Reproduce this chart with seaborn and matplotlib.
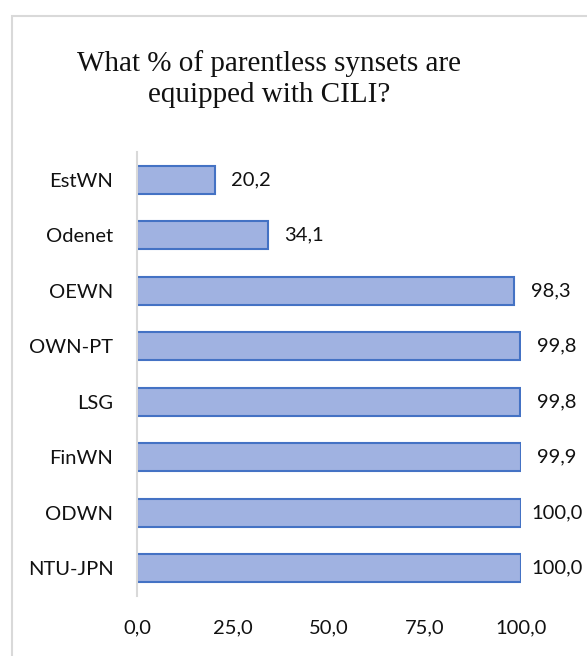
import matplotlib
matplotlib.use("Agg")
import matplotlib.pyplot as plt
import seaborn as sns
import pandas as pd
from matplotlib.patches import Rectangle

categories = ["EstWN", "Odenet", "OEWN", "OWN-PT", "LSG", "FinWN", "ODWN", "NTU-JPN"]
values = [20.2, 34.1, 98.3, 99.8, 99.8, 99.9, 100.0, 100.0]
xticks = [0, 25, 50, 75, 100]
title = "What % of parentless synsets are\nequipped with CILI?"

df = pd.DataFrame({"cat": categories, "val": values})

sns.set_theme(style="white")
plt.rcParams["font.family"] = ["Lato", "DejaVu Sans"]

W, H = 587, 656
fig = plt.figure(figsize=(W / 100, H / 100), dpi=100)
ax = fig.add_axes([137 / W, 60 / H, 384 / W, 444 / H])

sns.barplot(data=df, x="val", y="cat", orient="h", ax=ax, width=0.5,
            color="#A0B2E1", edgecolor="#4472C4", linewidth=1.5, saturation=1)

ax.set_xlim(0, 100)
ax.set_ylim(len(categories) - 0.5, -0.5)
ax.set_xticks(xticks)
ax.set_xticklabels([f"{v:.1f}".replace(".", ",") for v in xticks])
ax.set_xlabel("")
ax.set_ylabel("")
ax.tick_params(axis="both", length=0, labelsize=14.5, colors="#111111")
ax.tick_params(axis="y", pad=17)
ax.tick_params(axis="x", pad=17)

for s in ["top", "right", "bottom"]:
    ax.spines[s].set_visible(False)
ax.spines["left"].set_color("#D9D9D9")
ax.spines["left"].set_linewidth(1.5)

for cont in ax.containers:
    texts = ax.bar_label(cont, labels=[f"{v:.1f}".replace(".", ",") for v in values],
                         padding=26, fontsize=14.5, color="#111111")
    for t in texts:
        t.set_ha("center")

fig.text(269 / W, 1 - 79.5 / H, title, ha="center", va="center",
         fontsize=21, family=["Liberation Serif", "DejaVu Serif"],
         color="#111111", linespacing=1.25)

fig.patches.append(Rectangle((12 / W, -0.05), 1.0, (H - 16) / H + 0.05,
                             transform=fig.transFigure, fill=False,
                             edgecolor="#D9D9D9", linewidth=1.5))

fig.savefig("out.png", dpi=100, facecolor="white")
